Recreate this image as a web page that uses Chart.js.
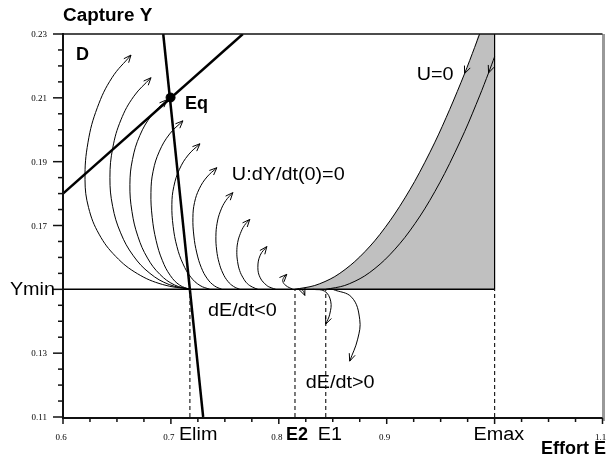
<!DOCTYPE html>
<html>
<head>
<meta charset="utf-8">
<script src="https://cdn.jsdelivr.net/npm/chart.js@4/dist/chart.umd.min.js"></script>
<style>
  html, body { margin: 0; padding: 0; background: #fff; }
  #wrap { width: 608px; height: 469px; }
</style>
</head>
<body>
<div id="wrap"><canvas id="chart" width="608" height="469"></canvas></div>
<script>
/* ========= Key values (Effort E, Capture Y) ========= */
const E_LIM = 0.7176;
const E_2 = 0.815;
const E_1 = 0.8435;
const E_MAX = 1.0;
const Y_MIN = 0.15;
const eqPoint = [[0.6997, 0.2101]];

/* ========= Straight lines ========= */
const lineD = [[0.6, 0.18], [0.7667, 0.23]];
const lineSteep = [[0.6929, 0.23], [0.7299, 0.11]];
const lineYmin = [[0.6, Y_MIN], [E_MAX, Y_MIN]];
const lineEmaxTop = [[E_MAX, Y_MIN], [E_MAX, 0.23]];

/* ========= U=0 curves (gray domain) ========= */
const uZeroOuter = [[.9861, .23], [.9815, .2258], [.9722, .2176], [.9583, .2063], [.9444, .1959], [.9259, .1838],
  [.9074, .1736], [.8889, .1652], [.8704, .1587], [.8519, .1540], [.8333, .1512], [.8148, .15]];
const uZeroInner = [[1.0, .2229], [.9944, .2178], [.9861, .2106], [.9722, .1994], [.9537, .1863], [.9352, .1752],
  [.9167, .1662], [.8981, .1592], [.8796, .1542], [.8611, .1512], [.8435, .15]];

/* ========= Trajectories U:dY/dt(0)=0 ========= */
const trajAbove = [
  [[.7176, .15], [.6924, .1515], [.6690, .1549], [.6489, .1603], [.6334, .1673], [.6237, .1756], [.6204, .1844], [.6232, .1961], [.6318, .2069], [.6454, .2163], [.6630, .2234]],
  [[.7176, .15], [.6984, .1515], [.6806, .1550], [.6652, .1605], [.6534, .1677], [.6460, .1760], [.6435, .1850], [.6461, .1943], [.6537, .2031], [.6657, .2105], [.6815, .2163]],
  [[.7176, .15], [.7032, .1514], [.6898, .1547], [.6783, .1598], [.6694, .1666], [.6639, .1744], [.6620, .1828], [.6644, .1907], [.6712, .1982], [.6821, .2045], [.6963, .2094]],
  [[.7176, .15], [.7082, .1513], [.6995, .1543], [.6920, .1591], [.6863, .1653], [.6827, .1725], [.6815, .1803], [.6835, .1870], [.6894, .1933], [.6989, .1987], [.7111, .2028]],
  [[.7361, .15], [.7270, .1512], [.7185, .1538], [.7112, .1580], [.7056, .1634], [.7021, .1697], [.7009, .1766], [.7027, .1822], [.7079, .1876], [.7161, .1921], [.7269, .1956]],
  [[.7472, .15], [.7403, .1511], [.7338, .1533], [.7282, .1568], [.7240, .1614], [.7213, .1667], [.7204, .1725], [.7219, .1772], [.7263, .1815], [.7334, .1852], [.7426, .1881]],
  [[.7639, .15], [.7581, .1509], [.7528, .1525], [.7481, .1551], [.7446, .1584], [.7424, .1623], [.7417, .1666], [.7428, .1707], [.7459, .1745], [.7509, .1778], [.7574, .1803]],
  [[.7806, .15], [.7756, .1507], [.7708, .1518], [.7669, .1536], [.7637, .1559], [.7618, .1587], [.7611, .1616], [.7619, .1647], [.7644, .1675], [.7681, .1700], [.7731, .1719]],
  [[.7972, .15], [.7929, .1505], [.7889, .1512], [.7828, .1536], [.7806, .1569], [.7828, .1607], [.7889, .1634]],
  [[.8130, .15], [.8065, .1512], [.8037, .1525], [.8046, .1537], [.8074, .1547]]
];
const trajBelow = [
  [[0.8176, 0.15], [0.8222, 0.1497], [0.8241, 0.1481]],
  [[0.8315, 0.15], [0.8426, 0.1494], [0.8481, 0.1463], [0.8472, 0.1422], [0.8435, 0.1391]],
  [[0.8500, 0.15], [0.8676, 0.1475], [0.8750, 0.1406], [0.8731, 0.1344], [0.8657, 0.1275]]
];

/* ========= Tick labels ========= */
const xTickValues = [0.6, 0.7, 0.8, 0.9, 1.1];
const xTickLabels = ["0.6", "0.7", "0.8", "0.9", "1.1"];
const yTickValues = [0.11, 0.13, 0.17, 0.19, 0.21, 0.23];
const yTickLabels = ["0.11", "0.13", "0.17", "0.19", "0.21", "0.23"];

/* ========= Helpers ========= */
const pts = arr => arr.map(p => ({ x: p[0], y: p[1] }));
const SANS = '"Liberation Sans", Arial, sans-serif';
const SERIF = '"Liberation Serif", "Times New Roman", serif';

function curve(arr, extra) {
  return Object.assign({
    data: pts(arr), showLine: true, borderColor: "#000", borderWidth: 1,
    pointRadius: 0, tension: 0.4, fill: false
  }, extra || {});
}
function dashed(e) {
  return curve([[e, 0.11], [e, Y_MIN]], { borderDash: [4, 3], borderColor: "#222", borderWidth: 1.2, tension: 0 });
}

const datasets = [
  // gray domain between U=0 and Emax (drawn underneath everything)
  curve([[E_MAX, 0.23]].concat(uZeroOuter), { fill: { value: Y_MIN }, backgroundColor: "#c0c0c0", borderWidth: 0, tension: 0.3, order: 5 }),
  curve(uZeroOuter, { tension: 0.3, arrowAt: 2 }),
  curve(uZeroInner, { tension: 0.3, arrowAt: 1 }),
  curve(lineYmin, { borderWidth: 1.5, tension: 0 }),
  curve(lineEmaxTop, { borderWidth: 1.2, tension: 0 }),
  dashed(E_LIM), dashed(E_2), dashed(E_1), dashed(E_MAX),
  ...trajAbove.map(t => curve(t, { arrowAt: -1 })),
  ...trajBelow.map(t => curve(t, { arrowAt: -1 })),
  curve(lineD, { borderWidth: 2.5, tension: 0 }),
  curve(lineSteep, { borderWidth: 2.5, tension: 0 }),
  { data: pts(eqPoint), pointRadius: 4.5, backgroundColor: "#000", borderColor: "#000", showLine: false }
];

function drawText(ctx, str, x, y, font, align, sx) {
  ctx.save();
  ctx.font = font;
  ctx.textAlign = align || "left";
  ctx.textBaseline = "alphabetic";
  ctx.translate(x, y);
  ctx.scale(sx || 1, 1);
  ctx.fillStyle = "#000";
  ctx.fillText(str, 0, 0);
  ctx.restore();
}

/* arrowheads at chosen points, along the spline direction */
const arrowPlugin = {
  id: "arrows",
  afterDatasetsDraw(chart) {
    const ctx = chart.ctx;
    chart.data.datasets.forEach((ds, di) => {
      if (ds.arrowAt === undefined) return;
      const el = chart.getDatasetMeta(di).data;
      const i = ds.arrowAt < 0 ? el.length - 1 : ds.arrowAt;
      const p = el[i];
      let bx = p.cp1x, by = p.cp1y;
      if (bx === undefined || Math.hypot(bx - p.x, by - p.y) < 0.5) { bx = el[i - 1].x; by = el[i - 1].y; }
      const a = Math.atan2(p.y - by, p.x - bx);
      const L = 8, w = 0.4;
      ctx.save();
      ctx.strokeStyle = "#000";
      ctx.lineWidth = 1;
      ctx.beginPath();
      ctx.moveTo(p.x - L * Math.cos(a - w), p.y - L * Math.sin(a - w));
      ctx.lineTo(p.x, p.y);
      ctx.lineTo(p.x - L * Math.cos(a + w), p.y - L * Math.sin(a + w));
      ctx.stroke();
      ctx.restore();
    });
  }
};

/* frame, ticks and all labels */
const framePlugin = {
  id: "frame",
  afterDraw(chart) {
    const ctx = chart.ctx;
    const xs = chart.scales.x, ys = chart.scales.y;
    const { left, right, top, bottom } = chart.chartArea;
    const px = v => xs.getPixelForValue(v);
    const py = v => ys.getPixelForValue(v);
    ctx.save();
    ctx.lineCap = "butt";
    // right border (gray)
    ctx.strokeStyle = "#999";
    ctx.lineWidth = 3;
    ctx.beginPath(); ctx.moveTo(right + 1, top); ctx.lineTo(right + 1, bottom + 4); ctx.stroke();
    // top border
    ctx.strokeStyle = "#111";
    ctx.lineWidth = 1.5;
    ctx.beginPath(); ctx.moveTo(left, top); ctx.lineTo(right, top); ctx.stroke();
    // axes
    ctx.lineWidth = 2;
    ctx.beginPath(); ctx.moveTo(left, top - 1); ctx.lineTo(left, bottom + 1); ctx.lineTo(right, bottom + 1); ctx.stroke();
    // y ticks every 0.005, longer every 0.02
    ctx.lineWidth = 1.5;
    for (let k = 0; k <= 24; k++) {
      const y = py(0.11 + k * 0.005);
      const len = k % 4 === 0 ? 10 : 5;
      ctx.beginPath(); ctx.moveTo(left - len, y); ctx.lineTo(left, y); ctx.stroke();
    }
    // x ticks every 0.025, longer every 0.1
    for (let k = 0; k <= 20; k++) {
      const x = px(0.6 + k * 0.025);
      const len = k % 4 === 0 ? 6 : 4;
      ctx.beginPath(); ctx.moveTo(x, bottom + 1); ctx.lineTo(x, bottom + 1 + len); ctx.stroke();
    }
    ctx.restore();

    // numeric tick labels
    yTickValues.forEach((v, i) => drawText(ctx, yTickLabels[i], left - 16, py(v) + 3, "9px " + SERIF, "right"));
    xTickValues.forEach((v, i) => drawText(ctx, xTickLabels[i], px(v) - 2, bottom + 23, "9px " + SERIF, "center"));

    // named ticks
    const big = "18px " + SANS, bold = "bold 18px " + SANS;
    drawText(ctx, "Ymin", left - 8, py(Y_MIN) + 6, big, "right", 1.1);
    drawText(ctx, "Elim", px(E_LIM) - 11, bottom + 23, big, "left", 1.1);
    drawText(ctx, "E2", px(E_2) - 9, bottom + 23, bold, "left", 1.0);
    drawText(ctx, "E1", px(E_1) - 8, bottom + 23, big, "left", 1.1);
    drawText(ctx, "Emax", px(E_MAX) - 21, bottom + 23, big, "left", 1.1);

    // axis titles
    drawText(ctx, "Capture Y", left, 21, bold, "left", 1.05);
    drawText(ctx, "Effort E", chart.width - 2, bottom + 37, bold, "right", 1.0);

    // annotations in the plane
    drawText(ctx, "D", px(0.6120), py(0.2219), bold, "left", 1.0);
    drawText(ctx, "Eq", px(0.7130), py(0.2066), bold, "left", 1.0);
    drawText(ctx, "U=0", px(0.9278), py(0.2156), big, "left", 1.1);
    drawText(ctx, "U:dY/dt(0)=0", px(0.7565), py(0.1844), big, "left", 1.1);
    drawText(ctx, "dE/dt<0", px(0.7343), py(0.1416), big, "left", 1.1);
    drawText(ctx, "dE/dt>0", px(0.8250), py(0.1191), big, "left", 1.1);
  }
};

new Chart(document.getElementById("chart"), {
  type: "scatter",
  data: { datasets },
  options: {
    responsive: false,
    animation: false,
    layout: { padding: { left: 63, right: 5, top: 34, bottom: 52 } },
    plugins: { legend: { display: false }, tooltip: { enabled: false } },
    scales: {
      x: { type: "linear", min: 0.6, max: 1.1, display: false },
      y: { type: "linear", min: 0.11, max: 0.23, display: false }
    }
  },
  plugins: [arrowPlugin, framePlugin]
});
</script>
</body>
</html>
